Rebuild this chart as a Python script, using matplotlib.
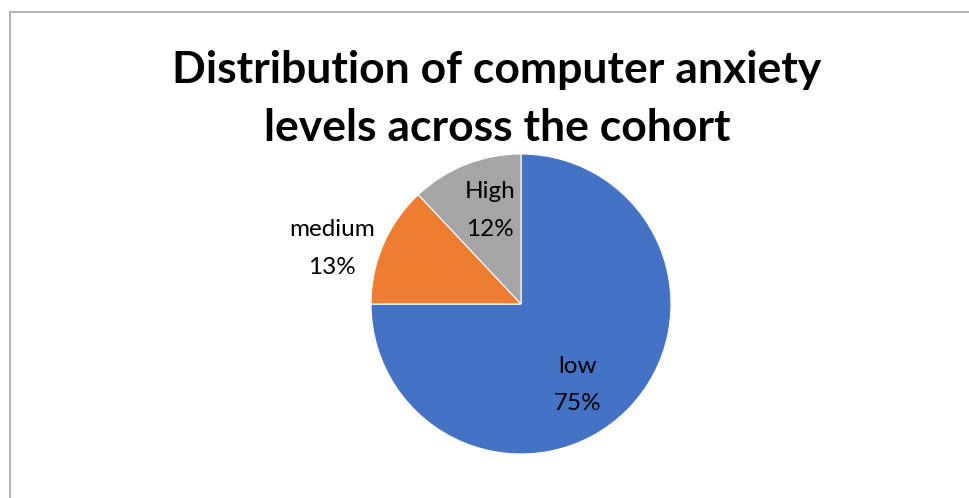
import matplotlib
matplotlib.use("Agg")
from matplotlib import pyplot
from matplotlib.lines import Line2D

# anxiety level shares (%), drawn clockwise from 12 o'clock
levels = ['low', 'medium', 'High']
shares = [75, 13, 12]
colors = ['#4472C4', '#ED7D31', '#A5A5A5']

W, H = 970, 498
fig = pyplot.figure(figsize=(W / 100, H / 100), dpi=100)
ax = fig.add_axes([0, 0, 1, 1])

# pie centre / radius in pixel units (y grows downwards, so flip counterclock)
cx, cy, r = 521, 304, 150
wedges, _ = ax.pie(shares, colors=colors, startangle=-90, counterclock=True,
                   center=(cx, cy), radius=r, frame=True,
                   wedgeprops=dict(edgecolor='white', linewidth=0.8))
ax.set_xlim(0, W)
ax.set_ylim(H, 0)
ax.axis('off')

# data label positions (label line, percent line)
label_pos = {'low': (578, 366), 'medium': (332, 229), 'High': (490, 191)}
for name, val in zip(levels, shares):
    x, y = label_pos[name]
    ax.text(x, y, name, ha='center', va='center', fontsize=17.5,
            family='Lato', color='#000000')
    ax.text(x, y + 38, '%d%%' % val, ha='center', va='center', fontsize=17.5,
            family='Lato', color='#000000')

ax.text(497, 70, 'Distribution of computer anxiety', ha='center', va='center',
        fontsize=32, fontweight='bold', family='Lato')
ax.text(497, 128, 'levels across the cohort', ha='center', va='center',
        fontsize=32, fontweight='bold', family='Lato')

# chart area border (only top and left edges fall inside the image)
fig.add_artist(Line2D([10.5 / W, 10.5 / W], [0, 1 - 12 / H], color='#a6a6a6',
                      lw=1.2, transform=fig.transFigure))
fig.add_artist(Line2D([10 / W, 1], [1 - 12.5 / H, 1 - 12.5 / H], color='#a6a6a6',
                      lw=1.2, transform=fig.transFigure))

pyplot.savefig('out.png', dpi=100)
